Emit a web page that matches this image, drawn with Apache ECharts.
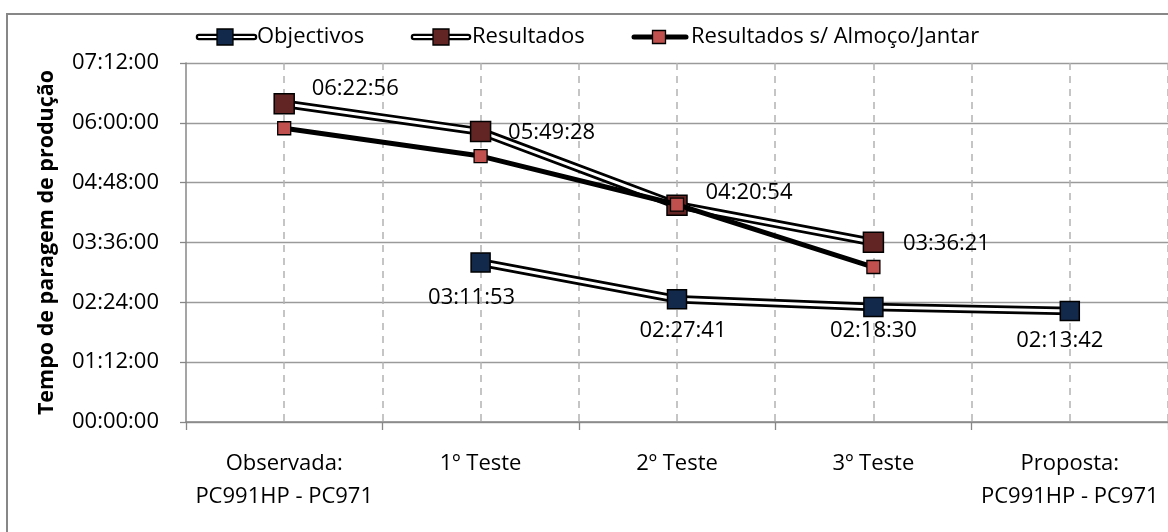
<!DOCTYPE html>
<html>
<head>
<meta charset="utf-8">
<script src="https://cdn.jsdelivr.net/npm/echarts@6/dist/echarts.min.js"></script>
<style>
  html, body { margin: 0; padding: 0; background: #fff; }
  #chart { width: 1168px; height: 532px; }
</style>
</head>
<body>
<div id="chart"></div>
<script>
// Categories (x axis)
const categories = [
  'Observada:\nPC991HP - PC971',
  '1º Teste',
  '2º Teste',
  '3º Teste',
  'Proposta:\nPC991HP - PC971'
];

// Series values (hh:mm:ss)
const objectivos = [null, '03:11:53', '02:27:41', '02:18:30', '02:13:42'];
const resultados = ['06:22:56', '05:49:28', '04:20:54', '03:36:21', null];
const resultadosSemRefeicoes = ['05:53:30', '05:20:00', '04:21:40', '03:06:30', null];

// Value axis range and step
const yMaxTime = '07:12:00';
const yStepTime = '01:12:00';

const seriesNames = ['Objectivos', 'Resultados', 'Resultados s/ Almoço/Jantar'];
const axisTitle = 'Tempo de paragem de produção';

function toSec(t) {
  if (t == null) return null;
  const p = t.split(':').map(Number);
  return p[0] * 3600 + p[1] * 60 + p[2];
}
function toTime(s) {
  s = Math.round(s);
  const h = Math.floor(s / 3600), m = Math.floor((s % 3600) / 60), r = s % 60;
  const pad = n => String(n).padStart(2, '0');
  return pad(h) + ':' + pad(m) + ':' + pad(r);
}

const FONT = 'Open Sans';
const FS = 22;

// Label placement per point, relative to each marker centre
const objLabelOffsets = [null, [-9, 35], [6, 31], [0, 24], [-10, 30]];
const resLabelOffsets = [[71, -15], [71, 1], [72, -12], [73, 2], null];

function labelled(values, offsets) {
  return values.map((v, i) => {
    const s = toSec(v);
    if (s == null) return null;
    return {
      value: s,
      label: {
        show: true,
        position: 'inside',
        align: 'center',
        verticalAlign: 'middle',
        offset: offsets[i],
        formatter: p => toTime(p.value),
        fontFamily: FONT,
        fontSize: FS,
        color: '#000'
      }
    };
  });
}

const objSec = objectivos.map(toSec);
const resSec = resultados.map(toSec);
const semSec = resultadosSemRefeicoes.map(toSec);

const chart = echarts.init(document.getElementById('chart'), null, { renderer: 'canvas' });

const legendY = 37;
function doubleLineIcon(x1, x2, cx, size, fill) {
  return [
    { type: 'line', shape: { x1: x1, y1: legendY, x2: x2, y2: legendY },
      style: { stroke: '#000', lineWidth: 6.5, lineCap: 'round' }, z: 10 },
    { type: 'line', shape: { x1: x1, y1: legendY, x2: x2, y2: legendY },
      style: { stroke: '#fff', lineWidth: 2.2, lineCap: 'round' }, z: 11 },
    { type: 'rect', shape: { x: cx - size / 2, y: legendY - size / 2, width: size, height: size },
      style: { fill: fill, stroke: '#000', lineWidth: 1.3 }, z: 12 }
  ];
}
function legendText(x, text) {
  return { type: 'text', x: x, y: legendY, z: 12,
    style: { text: text, fontFamily: FONT, fontSize: FS, fill: '#000', verticalAlign: 'middle', align: 'left' } };
}

const graphics = [
  { type: 'rect', shape: { x: 7, y: 14, width: 1300, height: 700 },
    style: { fill: 'none', stroke: '#878787', lineWidth: 2 }, z: 0 },
  ...doubleLineIcon(199, 254, 225, 16, '#13294B'),
  legendText(257, seriesNames[0]),
  ...doubleLineIcon(414, 468, 441, 16, '#632523'),
  legendText(472, seriesNames[1]),
  { type: 'line', shape: { x1: 634, y1: legendY, x2: 686, y2: legendY },
    style: { stroke: '#000', lineWidth: 5, lineCap: 'round' }, z: 10 },
  { type: 'rect', shape: { x: 659 - 6.5, y: legendY - 6.5, width: 13, height: 13 },
    style: { fill: '#C0504D', stroke: '#000', lineWidth: 1.3 }, z: 12 },
  legendText(691, seriesNames[2])
];

const option = {
  backgroundColor: '#fff',
  animation: false,
  grid: { left: 186, right: 0, top: 63, bottom: 110, containLabel: false },
  xAxis: [
    {
      type: 'category',
      data: categories,
      boundaryGap: true,
      axisLine: { lineStyle: { color: '#878787', width: 1.5 } },
      axisTick: { show: true, length: 8, alignWithLabel: false, lineStyle: { color: '#878787', width: 1.3 } },
      axisLabel: {
        interval: 0, margin: 25,
        fontFamily: FONT, fontSize: FS, color: '#000', lineHeight: 33
      },
      splitLine: { show: false },
      z: 5
    },
    {
      // helper axis: dashed verticals at every category centre and boundary
      type: 'value', min: 0, max: 10, interval: 1,
      position: 'bottom',
      axisLine: { show: false }, axisTick: { show: false }, axisLabel: { show: false },
      splitLine: { show: true, showMinLine: false, lineStyle: { color: '#b3b3b3', width: 1.5, type: [7, 6] } }
    }
  ],
  yAxis: {
    type: 'value',
    min: 0,
    max: toSec(yMaxTime),
    interval: toSec(yStepTime),
    name: axisTitle,
    nameLocation: 'middle',
    nameGap: 128,
    nameTextStyle: { fontFamily: FONT, fontSize: 21.5, fontWeight: 'bold', color: '#000' },
    axisLine: { show: true, lineStyle: { color: '#878787', width: 1.5 } },
    axisTick: { show: true, length: 6, lineStyle: { color: '#878787', width: 1.3 } },
    axisLabel: { margin: 27, fontFamily: FONT, fontSize: FS, color: '#000', formatter: v => toTime(v) },
    splitLine: { show: true, lineStyle: { color: '#9a9a9a', width: 1.3 } }
  },
  series: [
    {
      name: seriesNames[0] + ' contorno', type: 'line', data: objSec,
      symbol: 'none', silent: true, z: 2,
      lineStyle: { color: '#000', width: 8.5 }
    },
    {
      name: seriesNames[0], type: 'line', data: labelled(objectivos, objLabelOffsets),
      symbol: 'rect', symbolSize: 19, z: 3,
      lineStyle: { color: '#fff', width: 3 },
      itemStyle: { color: '#13294B', borderColor: '#000', borderWidth: 1.5 }
    },
    {
      name: seriesNames[1] + ' contorno', type: 'line', data: resSec,
      symbol: 'none', silent: true, z: 2,
      lineStyle: { color: '#000', width: 8.5 }
    },
    {
      name: seriesNames[1], type: 'line', data: labelled(resultados, resLabelOffsets),
      symbol: 'rect', symbolSize: 20, z: 3,
      lineStyle: { color: '#fff', width: 3 },
      itemStyle: { color: '#632523', borderColor: '#000', borderWidth: 1.5 }
    },
    {
      name: seriesNames[2], type: 'line', data: semSec,
      symbol: 'rect', symbolSize: 13, z: 4,
      lineStyle: { color: '#000', width: 5 },
      itemStyle: { color: '#C0504D', borderColor: '#000', borderWidth: 1.3 }
    }
  ],
  graphic: graphics
};

chart.setOption(option);
</script>
</body>
</html>
